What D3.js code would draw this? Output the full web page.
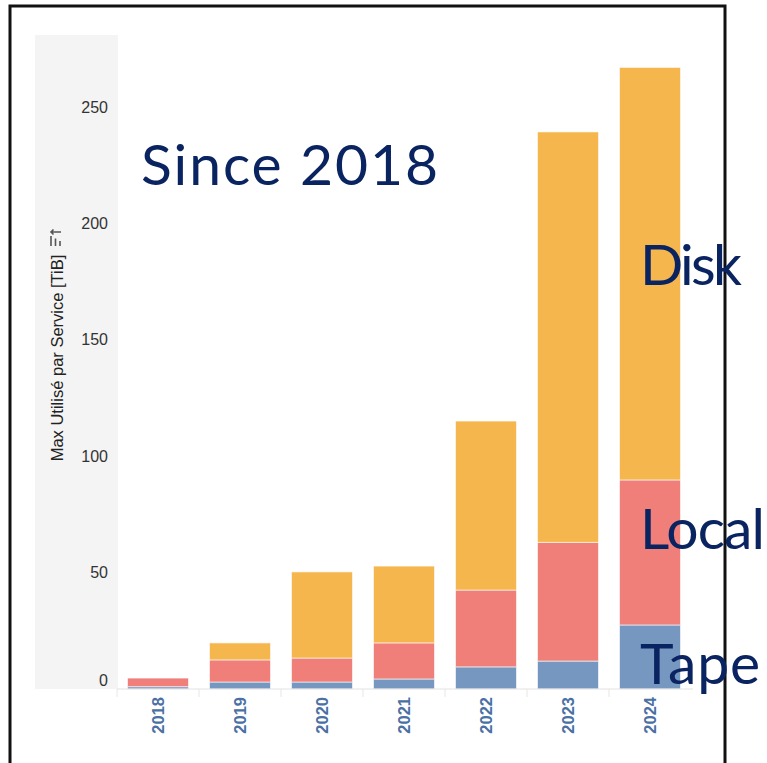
<!DOCTYPE html>
<html>
<head>
<meta charset="utf-8">
<script src="https://cdn.jsdelivr.net/npm/d3@7"></script>
<style>
  html, body { margin: 0; padding: 0; background: #fff; }
  svg { display: block; }
</style>
</head>
<body>
<svg id="chart" width="767" height="763"></svg>
<script>
// Storage used per year, stacked by service (TiB)
const years = ["2018", "2019", "2020", "2021", "2022", "2023", "2024"];
const tape  = [1, 3, 3, 4.3, 9.5, 12, 27.5];
const local = [3.7, 9.5, 10.3, 15.5, 33, 51, 62.3];
const disk  = [0, 7.3, 37, 33, 72.6, 176.3, 177.2];
const yTicks = [0, 50, 100, 150, 200, 250];
const seriesNames = ["Tape", "Local", "Disk"];
const seriesColors = ["#7597c0", "#f07f7a", "#f6b64e"];

const svg = d3.select("#chart");

// outer frame
svg.append("rect")
  .attr("x", 10).attr("y", 6)
  .attr("width", 715).attr("height", 800)
  .attr("fill", "none").attr("stroke", "#111").attr("stroke-width", 3);

// y-axis shaded pane
svg.append("rect")
  .attr("x", 35).attr("y", 35)
  .attr("width", 83).attr("height", 654)
  .attr("fill", "#f4f4f4");

const x = d3.scaleBand().domain(years).range([117, 691])
  .paddingInner(0.256).paddingOuter(0.128);
const y = d3.scaleLinear().domain([0, 250]).range([689, 107]);

const rows = years.map((yr, i) => ({ year: yr, Tape: tape[i], Local: local[i], Disk: disk[i] }));
const stack = d3.stack().keys(seriesNames)(rows);
const color = d3.scaleOrdinal().domain(seriesNames).range(seriesColors);

svg.append("g").selectAll("g").data(stack).join("g")
  .attr("fill", d => color(d.key))
  .selectAll("rect").data(d => d.filter(p => p[1] - p[0] > 0)).join("rect")
  .attr("x", d => x(d.data.year))
  .attr("width", x.bandwidth())
  .attr("y", d => y(d[1]))
  .attr("height", d => y(d[0]) - y(d[1]))
  .attr("stroke", "#fff").attr("stroke-opacity", 0.6).attr("stroke-width", 1);

// y axis labels
const yAxis = svg.append("g").attr("transform", "translate(108,0)")
  .call(d3.axisLeft(y).tickValues(yTicks).tickSize(0).tickPadding(0));
yAxis.select(".domain").remove();
yAxis.selectAll("text")
  .attr("font-family", "'Liberation Sans', Arial, sans-serif")
  .attr("font-size", 16).attr("fill", "#333")
  .attr("dy", d => d === 0 ? "-0.2em" : "0.32em");

// y axis title with sort glyph
const title = svg.append("g").attr("transform", "translate(63,358) rotate(-90)");
title.append("text")
  .attr("text-anchor", "middle")
  .attr("font-family", "'Liberation Sans', Arial, sans-serif")
  .attr("font-size", 16.5).attr("fill", "#222")
  .text("Max Utilisé par Service [TiB]");
const icon = title.append("g").attr("transform", "translate(112,-12)")
  .attr("stroke", "#555").attr("stroke-width", 1.6).attr("fill", "none");
icon.append("path").attr("d", "M0,0 H10 M0,4.5 H7.5 M0,9 H5");
icon.append("path").attr("d", "M14,10 V0 M11.5,2.5 L14,0 L16.5,2.5");

// x axis
const xAxis = svg.append("g").attr("transform", "translate(0,689)");
xAxis.append("line").attr("x1", 117).attr("x2", 693)
  .attr("stroke", "#e2e2e2").attr("stroke-width", 1);
const bounds = years.map(yr => x(yr) - x.step() * x.paddingInner() / 2);
xAxis.selectAll("line.tk").data(bounds).join("line").attr("class", "tk")
  .attr("x1", d => d).attr("x2", d => d).attr("y1", 0).attr("y2", 8)
  .attr("stroke", "#e6e6e6");
xAxis.selectAll("text").data(years).join("text")
  .attr("transform", d => `translate(${x(d) + x.bandwidth() / 2 + 6},8) rotate(-90)`)
  .attr("text-anchor", "end")
  .attr("font-family", "'Liberation Sans', Arial, sans-serif")
  .attr("font-weight", "bold").attr("font-size", 16.5)
  .attr("fill", "#4a70a4")
  .text(d => d);

// annotations
const notes = [
  { text: "Since 2018", x: 141, y: 185, w: 297 },
  { text: "Disk", x: 640, y: 285, w: 102 },
  { text: "Local", x: 640, y: 549, w: 125 },
  { text: "Tape", x: 640, y: 684, w: 120 }
];
svg.append("g").selectAll("text").data(notes).join("text")
  .attr("x", d => d.x).attr("y", d => d.y)
  .attr("font-family", "Lato, 'Open Sans', sans-serif")
  .attr("font-size", 57).attr("fill", "#0a2361")
  .attr("textLength", d => d.w).attr("lengthAdjust", "spacing")
  .text(d => d.text);
</script>
</body>
</html>
